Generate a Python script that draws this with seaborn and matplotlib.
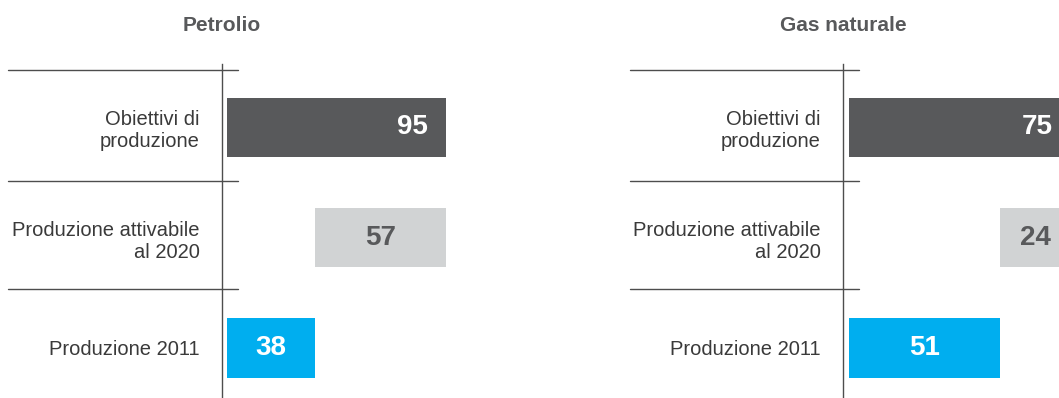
import matplotlib
matplotlib.use("Agg")
import matplotlib.pyplot as plt
import seaborn as sns

# Categories (top to bottom) and values per panel
categories = ["Obiettivi di\nproduzione", "Produzione attivabile\nal 2020", "Produzione 2011"]
panel_titles = ["Petrolio", "Gas naturale"]
oil_values = [95, 57, 38]   # target, additional producible by 2020, 2011 production
gas_values = [75, 24, 51]
bar_colors = ["#58595b", "#d1d3d4", "#00aeef"]
value_colors = ["white", "#58595b", "white"]

sns.set_theme(style="white")
plt.rcParams["font.family"] = ["Liberation Sans", "DejaVu Sans"]

W, H = 1059, 398
fig = plt.figure(figsize=(W / 100, H / 100), dpi=100)

AX_TOP = 64          # px from the top where the plotting band begins
Y_LIMITS = (2.454, -0.576)
SEPARATORS = [-0.52, 0.485, 1.465]
LINE_COLOR = "#4d4d4d"


def draw_panel(spine_px, px_per_unit, zero_offset_px, right_px, line_span_px, values, title):
    x_min = -zero_offset_px / px_per_unit
    x_max = (right_px - spine_px - zero_offset_px) / px_per_unit
    width_px = right_px - spine_px
    ax = fig.add_axes([spine_px / W, 0, width_px / W, (H - AX_TOP) / H])

    target, extra, current = values
    starts = [0, current, 0]
    for cat, val, start, col in zip(categories, values, starts, bar_colors):
        sns.barplot(x=[val], y=[cat], order=categories, orient="h", color=col,
                    saturation=1, width=0.54, errorbar=None, left=start,
                    linewidth=0, ax=ax)

    ax.set_xlim(x_min, x_max)
    ax.set_ylim(*Y_LIMITS)
    ax.set_xlabel("")
    ax.set_ylabel("")
    ax.set_xticks([])
    ax.tick_params(axis="y", length=0, pad=16, labelsize=14.5, labelcolor="#3a3a3a")
    for side in ("top", "right", "bottom"):
        ax.spines[side].set_visible(False)
    ax.spines["left"].set_color(LINE_COLOR)
    ax.spines["left"].set_linewidth(1.0)

    # row separators reaching out under the category labels
    x0 = (line_span_px[0] - spine_px) / width_px
    x1 = (line_span_px[1] - spine_px) / width_px
    for yv in SEPARATORS:
        ax.axhline(yv, xmin=x0, xmax=x1, color=LINE_COLOR, lw=1.0, clip_on=False)

    # value labels
    ax.annotate(str(target), xy=(target, 0), xytext=(-13, 0), textcoords="offset points",
                ha="right", va="center", fontsize=20, fontweight="bold",
                color=value_colors[0])
    ax.text(current + extra / 2, 1, str(extra), ha="center", va="center",
            fontsize=20, fontweight="bold", color=value_colors[1])
    ax.text(current / 2, 2, str(current), ha="center", va="center",
            fontsize=20, fontweight="bold", color=value_colors[2])

    ax.annotate(title, xy=(0, 1), xycoords="axes fraction", xytext=(0, 28),
                textcoords="offset points", ha="center", va="center",
                fontsize=15, fontweight="bold", color="#58595b",
                annotation_clip=False)
    return ax


draw_panel(222, 2.305, 5, 470, (8, 238), oil_values, panel_titles[0])
draw_panel(843, 2.96, 6, 1100, (630, 859), gas_values, panel_titles[1])

fig.savefig("out.png", dpi=100)
